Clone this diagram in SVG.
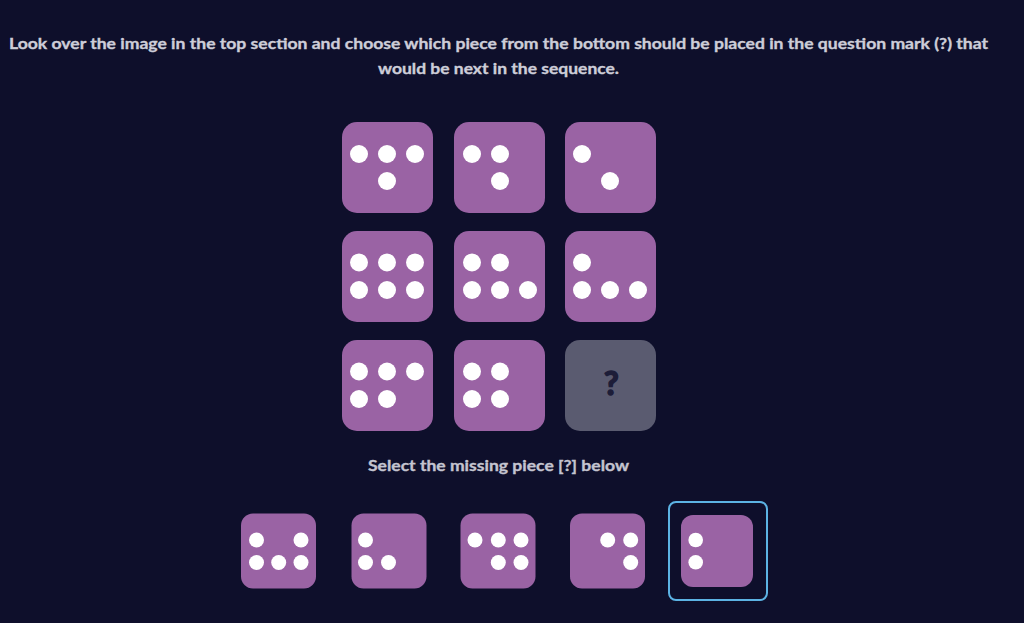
<svg xmlns="http://www.w3.org/2000/svg" width="1024" height="623" viewBox="0 0 1024 623">
<style>
.t{font-family:Lato,"Open Sans","Liberation Sans",sans-serif;font-weight:bold;fill:#cdcdd8;stroke:#cdcdd8;stroke-width:0.35;text-anchor:middle}
.d{fill:#9a63a4}
.p{fill:#ffffff}
</style>
<rect width="1024" height="623" fill="#0e0f2b"/>
<text class="t" x="498.5" y="49" font-size="15.5" textLength="979" lengthAdjust="spacingAndGlyphs">Look over the image in the top section and choose which piece from the bottom should be placed in the question mark (?) that</text>
<text class="t" x="498.5" y="74" font-size="15.5" textLength="241" lengthAdjust="spacingAndGlyphs">would be next in the sequence.</text>
<g id="g11"><rect class="d" x="342" y="122" width="91" height="91" rx="15"/><circle class="p" cx="359" cy="154" r="9"/><circle class="p" cx="387" cy="154" r="9"/><circle class="p" cx="415" cy="154" r="9"/><circle class="p" cx="387" cy="181" r="9"/></g>
<g id="g12"><rect class="d" x="454" y="122" width="91" height="91" rx="15"/><circle class="p" cx="472" cy="154" r="9"/><circle class="p" cx="500" cy="154" r="9"/><circle class="p" cx="500" cy="181" r="9"/></g>
<g id="g13"><rect class="d" x="565" y="122" width="91" height="91" rx="15"/><circle class="p" cx="582" cy="154" r="9"/><circle class="p" cx="610" cy="181" r="9"/></g>
<g id="g21"><rect class="d" x="342" y="231" width="91" height="91" rx="15"/><circle class="p" cx="359" cy="262.5" r="9"/><circle class="p" cx="387" cy="262.5" r="9"/><circle class="p" cx="415" cy="262.5" r="9"/><circle class="p" cx="359" cy="290" r="9"/><circle class="p" cx="387" cy="290" r="9"/><circle class="p" cx="415" cy="290" r="9"/></g>
<g id="g22"><rect class="d" x="454" y="231" width="91" height="91" rx="15"/><circle class="p" cx="472" cy="262.5" r="9"/><circle class="p" cx="500" cy="262.5" r="9"/><circle class="p" cx="472" cy="290" r="9"/><circle class="p" cx="500" cy="290" r="9"/><circle class="p" cx="528" cy="290" r="9"/></g>
<g id="g23"><rect class="d" x="565" y="231" width="91" height="91" rx="15"/><circle class="p" cx="582" cy="262.5" r="9"/><circle class="p" cx="582" cy="290" r="9"/><circle class="p" cx="610" cy="290" r="9"/><circle class="p" cx="638" cy="290" r="9"/></g>
<g id="g31"><rect class="d" x="342" y="340" width="91" height="91" rx="15"/><circle class="p" cx="359" cy="371.5" r="9"/><circle class="p" cx="387" cy="371.5" r="9"/><circle class="p" cx="415" cy="371.5" r="9"/><circle class="p" cx="359" cy="399" r="9"/><circle class="p" cx="387" cy="399" r="9"/></g>
<g id="g32"><rect class="d" x="454" y="340" width="91" height="91" rx="15"/><circle class="p" cx="472" cy="371.5" r="9"/><circle class="p" cx="500" cy="371.5" r="9"/><circle class="p" cx="472" cy="399" r="9"/><circle class="p" cx="500" cy="399" r="9"/></g>
<g id="g33"><rect x="565" y="340" width="91" height="91" rx="15" fill="#5a5b70"/><text x="611.3" y="395" font-family="Lato,'Open Sans','Liberation Sans',sans-serif" font-weight="bold" font-size="32" fill="#1d1d38" stroke="#1d1d38" stroke-width="1.6" text-anchor="middle">?</text></g>
<text class="t" x="498.5" y="471" font-size="15.5" textLength="261" lengthAdjust="spacingAndGlyphs" style="fill:#c4c4d0;stroke:#c4c4d0">Select the missing piece [?] below</text>
<g id="o1"><rect class="d" x="241" y="513.5" width="75" height="75" rx="12"/><circle class="p" cx="256.5" cy="540" r="7.5"/><circle class="p" cx="301" cy="540" r="7.5"/><circle class="p" cx="256.5" cy="562.5" r="7.5"/><circle class="p" cx="278.7" cy="562.5" r="7.5"/><circle class="p" cx="301" cy="562.5" r="7.5"/></g>
<g id="o2"><rect class="d" x="351.5" y="513.5" width="75" height="75" rx="12"/><circle class="p" cx="365.5" cy="540" r="7.5"/><circle class="p" cx="365.5" cy="562.5" r="7.5"/><circle class="p" cx="388.5" cy="562.5" r="7.5"/></g>
<g id="o3"><rect class="d" x="460.5" y="513.5" width="75" height="75" rx="12"/><circle class="p" cx="475" cy="540" r="7.5"/><circle class="p" cx="498.3" cy="540" r="7.5"/><circle class="p" cx="521" cy="540" r="7.5"/><circle class="p" cx="498.3" cy="562.5" r="7.5"/><circle class="p" cx="521" cy="562.5" r="7.5"/></g>
<g id="o4"><rect class="d" x="570" y="513.5" width="75" height="75" rx="12"/><circle class="p" cx="607.7" cy="540" r="7.5"/><circle class="p" cx="630.7" cy="540" r="7.5"/><circle class="p" cx="630.7" cy="562.5" r="7.5"/></g>
<g id="o5"><rect x="669" y="502" width="98" height="98" rx="7" fill="none" stroke="#5cb3e4" stroke-width="2"/><rect class="d" x="681" y="515" width="72" height="72" rx="12"/><circle class="p" cx="695.7" cy="540" r="7.3"/><circle class="p" cx="695.7" cy="562.3" r="7.3"/></g>
</svg>
